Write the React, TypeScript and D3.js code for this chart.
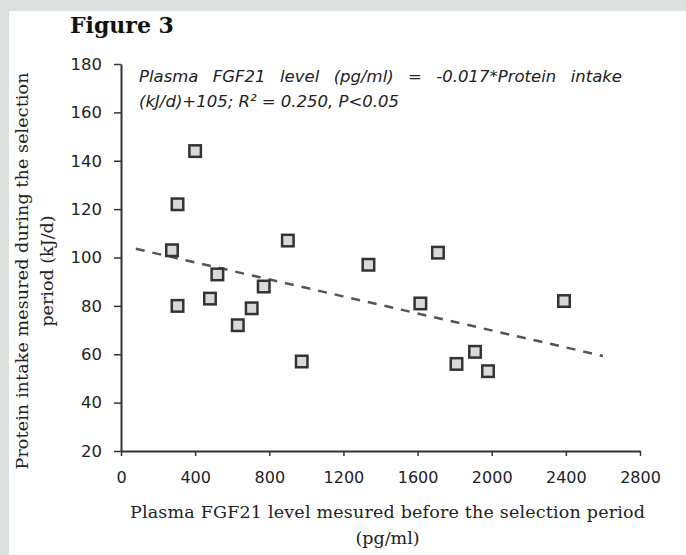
import * as d3 from 'd3';
import { useEffect, useRef } from 'react';

// values
const plasmaFgf21 = [275, 305, 305, 400, 480, 520, 630, 705, 770, 900, 975, 1335, 1615, 1710, 1810, 1910, 1980, 2390];
const proteinIntake = [103, 122, 80, 144, 83, 93, 72, 79, 88, 107, 57, 97, 81, 102, 56, 61, 53, 82];
const xTicks = [0, 400, 800, 1200, 1600, 2000, 2400, 2800];
const yTicks = [20, 40, 60, 80, 100, 120, 140, 160, 180];
// ends of the dashed fit line
const trendX = [80, 2600];
const trendY = [103.6, 59.3];

const W = 686;
const H = 555;

export default function App() {
  const ref = useRef<SVGSVGElement>(null);
  const eqRef = useRef<SVGTextElement>(null);

  useEffect(() => {
    const svg = d3.select(ref.current);
    svg.selectAll('*').remove();

    // frame
    svg.append('rect').attr('width', W).attr('height', H).attr('fill', '#dce1de');
    svg.append('rect').attr('x', 9).attr('y', 11).attr('width', W - 9).attr('height', H - 11).attr('fill', '#fff');

    const x = d3.scaleLinear().domain([0, 2800]).range([121, 640]);
    const y = d3.scaleLinear().domain([20, 180]).range([451, 64]);

    const tickFont = '"DejaVu Sans", sans-serif';

    //x axis
    svg
      .append('g')
      .attr('transform', `translate(0,${y(20)})`)
      .call(d3.axisBottom(x).tickValues(xTicks).tickSize(5).tickSizeOuter(0).tickPadding(16).tickFormat((d) => String(d)))
      .call((g) => {
        g.select('.domain').attr('stroke', '#333').attr('stroke-width', 2);
        g.selectAll('.tick line').attr('stroke', '#333').attr('stroke-width', 1.5);
        g.selectAll('.tick text').attr('fill', '#222').style('font-size', '16px').style('font-family', tickFont);
      });

    //y axis
    svg
      .append('g')
      .attr('transform', `translate(${x(0)},0)`)
      .call(d3.axisLeft(y).tickValues(yTicks).tickSize(7).tickSizeOuter(0).tickPadding(12))
      .call((g) => {
        g.select('.domain').attr('stroke', '#333').attr('stroke-width', 2);
        g.selectAll('.tick line').attr('stroke', '#333').attr('stroke-width', 1.5);
        g.selectAll('.tick text').attr('fill', '#222').style('font-size', '16.5px').style('font-family', tickFont);
      });

    //trend line
    const line = d3
      .line<number>()
      .x((d) => x(d))
      .y((_d, i) => y(trendY[i]));
    svg
      .append('path')
      .datum(trendX)
      .attr('fill', 'none')
      .attr('stroke', '#555')
      .attr('stroke-width', 2.5)
      .attr('stroke-dasharray', '9,8')
      .attr('d', line);

    //points
    const s = 11.5;
    svg
      .append('g')
      .selectAll('rect')
      .data(plasmaFgf21)
      .join('rect')
      .attr('x', (d) => x(d) - s / 2)
      .attr('y', (_d, i) => y(proteinIntake[i]) - s / 2)
      .attr('width', s)
      .attr('height', s)
      .attr('fill', '#d9d9d9')
      .attr('stroke', '#333')
      .attr('stroke-width', 2.5);

    // justify first equation line by widening the word gaps
    const eq = eqRef.current;
    if (eq) {
      const natural = eq.getComputedTextLength();
      const gaps = (eq.textContent ?? '').split(' ').length - 1;
      if (gaps > 0) eq.setAttribute('word-spacing', String(Math.max(0, (483 - natural) / gaps)));
    }
  }, []);

  const serif = '"DejaVu Serif", serif';
  const eqFont = '"DejaVu Sans", sans-serif';

  return (
    <div style={{ position: 'fixed', left: 0, top: 0 }}>
      <svg ref={ref} width={W} height={H} style={{ display: 'block' }} />
      <svg width={W} height={H} style={{ position: 'absolute', left: 0, top: 0 }}>
        <text x={70} y={33} fontFamily={serif} fontWeight="bold" fontSize={22} fill="#111">
          Figure 3
        </text>
        <g fontFamily={eqFont} fontStyle="italic" fontSize={16.5} fill="#222">
          <text ref={eqRef} x={139} y={82}>
            Plasma FGF21 level (pg/ml) = -0.017*Protein intake
          </text>
          <text x={139} y={107}>
            (kJ/d)+105; R² = 0.250, P&lt;0.05
          </text>
        </g>
        <g fontFamily={serif} fontSize={17.5} fill="#222" textAnchor="middle">
          <text x={387.5} y={518} textLength={515} lengthAdjust="spacing">
            Plasma FGF21 level mesured before the selection period
          </text>
          <text x={387.5} y={544}>(pg/ml)</text>
          <text transform="translate(28,271) rotate(-90)" textLength={397} lengthAdjust="spacing">
            Protein intake mesured during the selection
          </text>
          <text transform="translate(53,271) rotate(-90)">period (kJ/d)</text>
        </g>
      </svg>
    </div>
  );
}
